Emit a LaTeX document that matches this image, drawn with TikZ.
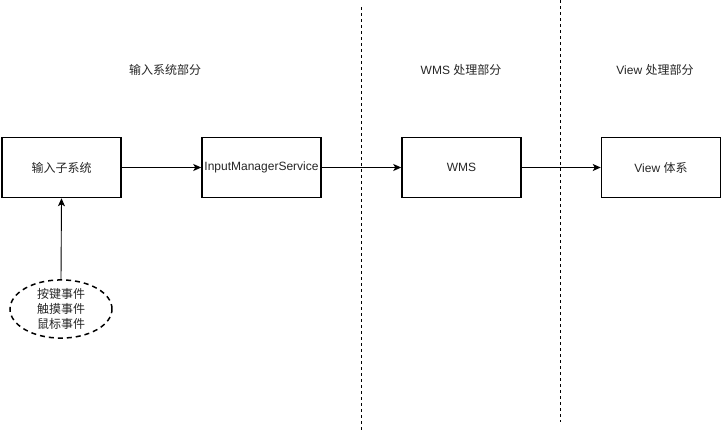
\documentclass[tikz,border=0pt]{standalone}
\usepackage{fontspec}
\setmainfont{Liberation Sans}
\newfontfamily\cjk{Noto Sans CJK SC}
\usetikzlibrary{arrows.meta,shapes.geometric}
\begin{document}
\begin{tikzpicture}[x=1pt,y=-1pt,
  box/.style={draw=black,line width=1.5pt,minimum width=119pt,minimum height=60pt,inner sep=0pt,font=\fontsize{12pt}{14pt}\selectfont,text=black!85},
  lbl/.style={font=\fontsize{12pt}{14pt}\selectfont,text=black!85},
  conn/.style={line width=0.9pt,-{Stealth[length=8pt,width=7pt,inset=2pt]}},
  sep/.style={line width=0.8pt,dash pattern=on 3pt off 3pt}]
\useasboundingbox (0,0) rectangle (722,431);
\fill[white] (0,0) rectangle (722,431);
% separators
\coordinate (s1t) at (361,7); \coordinate (s1b) at (361,430);
\coordinate (s2t) at (560,0); \coordinate (s2b) at (560,422);
\draw[sep] (s1t) -- (s1b);
\draw[sep] (s2t) -- (s2b);
% headers
\node[lbl] (h1) at (165,70) {\cjk 输入系统部分};
\node[lbl] (h2) at (461,70) {WMS {\cjk 处理部分}};
\node[lbl] (h3) at (655,70) {View {\cjk 处理部分}};
% boxes
\node[box] (b1) at (61.5,167.5) {\cjk 输入子系统};
\node[box] (b2) at (261.5,167.5) {InputManagerService};
\node[box] (b3) at (461.5,167.5) {WMS};
\node[box] (b4) at (661,167.5) {View {\cjk 体系}};
% ellipse
\node[draw=black,line width=1.5pt,dash pattern=on 5pt off 4pt,ellipse,minimum width=102pt,minimum height=58pt,inner sep=0pt,align=center,font=\fontsize{12pt}{15pt}\selectfont\cjk,text=black!85] (e) at (61,309) {按键事件\\触摸事件\\鼠标事件};
% connectors
\draw[conn] (e.north) -- (b1.south);
\draw[conn] (b1.east) -- (b2.west);
\draw[conn] (b2.east) -- (b3.west);
\draw[conn] (b3.east) -- (b4.west);
\end{tikzpicture}
\end{document}
